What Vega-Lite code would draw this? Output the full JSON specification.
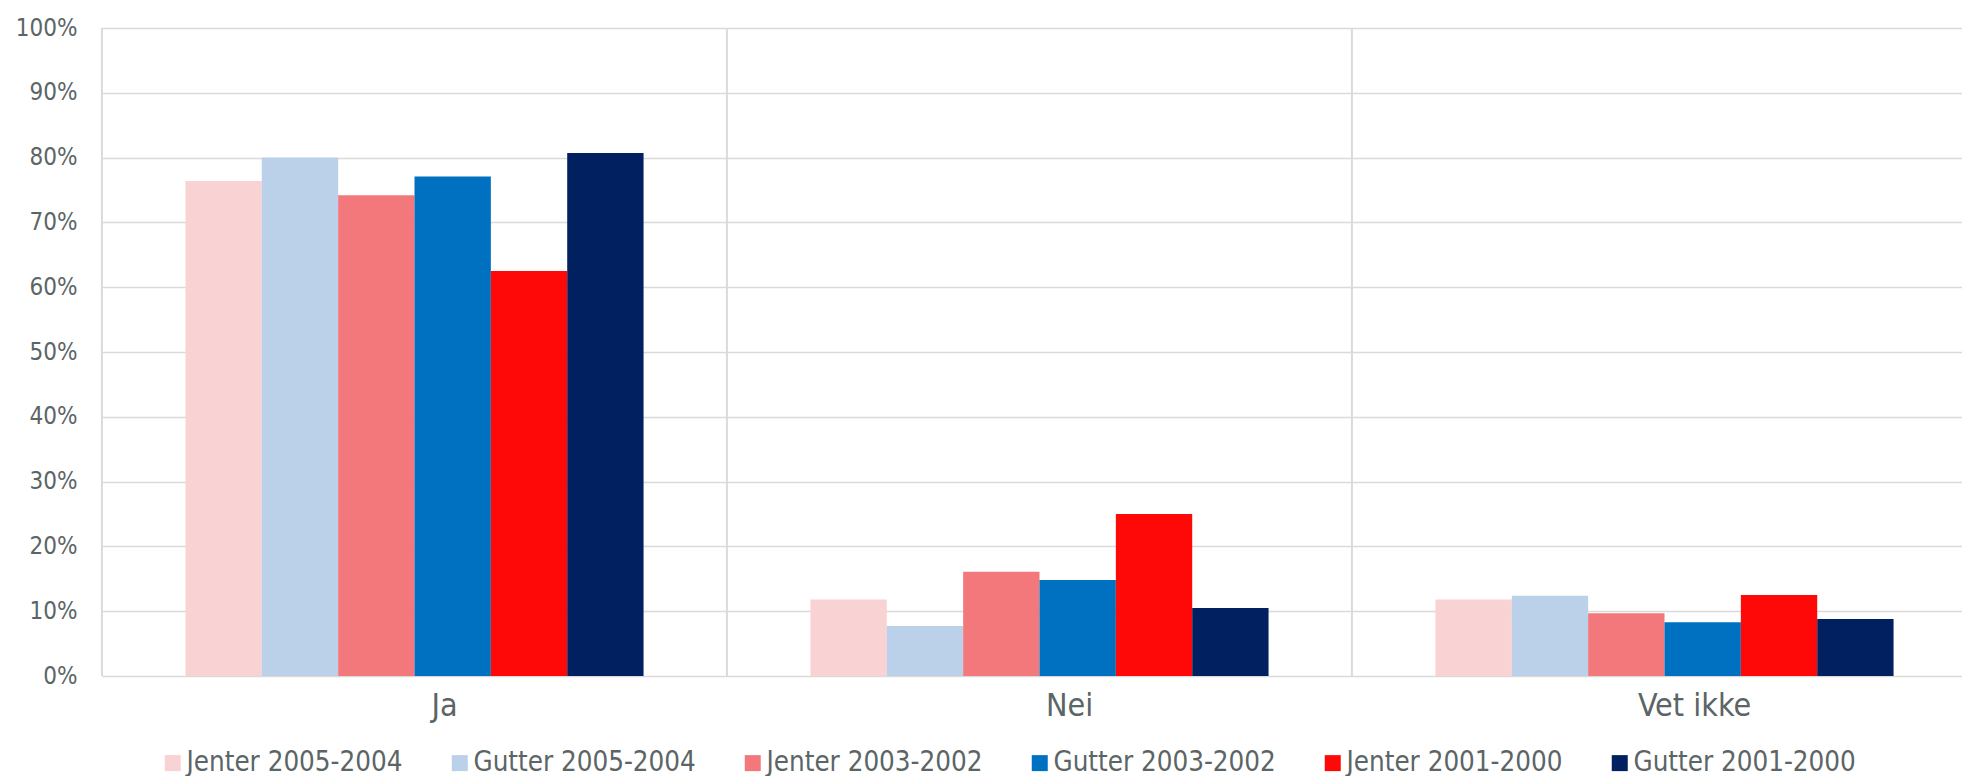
{
  "$schema": "https://vega.github.io/schema/vega-lite/v6.json",
  "autosize": {"type": "none"},
  "padding": {"left": 102, "top": 28, "right": 0, "bottom": 100},
  "width": 1860,
  "height": 648,
  "background": "white",
  "config": {
    "font": "DejaVu Sans Condensed",
    "view": {"stroke": null}
  },
  "datasets": {
    "svar": [
      {"svar": "Ja", "gruppe": "Jenter 2005-2004", "prosent": 76.4},
      {"svar": "Ja", "gruppe": "Gutter 2005-2004", "prosent": 80.0},
      {"svar": "Ja", "gruppe": "Jenter 2003-2002", "prosent": 74.2},
      {"svar": "Ja", "gruppe": "Gutter 2003-2002", "prosent": 77.1},
      {"svar": "Ja", "gruppe": "Jenter 2001-2000", "prosent": 62.5},
      {"svar": "Ja", "gruppe": "Gutter 2001-2000", "prosent": 80.7},
      {"svar": "Nei", "gruppe": "Jenter 2005-2004", "prosent": 11.8},
      {"svar": "Nei", "gruppe": "Gutter 2005-2004", "prosent": 7.7},
      {"svar": "Nei", "gruppe": "Jenter 2003-2002", "prosent": 16.1},
      {"svar": "Nei", "gruppe": "Gutter 2003-2002", "prosent": 14.8},
      {"svar": "Nei", "gruppe": "Jenter 2001-2000", "prosent": 25.0},
      {"svar": "Nei", "gruppe": "Gutter 2001-2000", "prosent": 10.5},
      {"svar": "Vet ikke", "gruppe": "Jenter 2005-2004", "prosent": 11.8},
      {"svar": "Vet ikke", "gruppe": "Gutter 2005-2004", "prosent": 12.4},
      {"svar": "Vet ikke", "gruppe": "Jenter 2003-2002", "prosent": 9.7},
      {"svar": "Vet ikke", "gruppe": "Gutter 2003-2002", "prosent": 8.3},
      {"svar": "Vet ikke", "gruppe": "Jenter 2001-2000", "prosent": 12.5},
      {"svar": "Vet ikke", "gruppe": "Gutter 2001-2000", "prosent": 8.8}
    ],
    "kategorier": [
      {"svar": "Ja"},
      {"svar": "Nei"},
      {"svar": "Vet ikke"}
    ]
  },
  "layer": [
    {
      "data": {"name": "svar"},
      "mark": {"type": "bar"},
      "encoding": {
        "x": {
          "field": "svar",
          "type": "nominal",
          "sort": ["Ja", "Nei", "Vet ikke"],
          "scale": {"range": [0, 1875], "paddingInner": 0.267, "paddingOuter": 0.1335},
          "axis": {
            "title": null,
            "labelAngle": 0,
            "labelFontSize": 32,
            "labelColor": "#5b6566",
            "labelPadding": 14,
            "labelOffset": 30,
            "ticks": false,
            "domain": false,
            "grid": false
          }
        },
        "xOffset": {
          "field": "gruppe",
          "type": "nominal",
          "sort": ["Jenter 2005-2004", "Gutter 2005-2004", "Jenter 2003-2002", "Gutter 2003-2002", "Jenter 2001-2000", "Gutter 2001-2000"],
          "scale": {"paddingInner": 0, "paddingOuter": 0}
        },
        "y": {
          "field": "prosent",
          "type": "quantitative",
          "scale": {"domain": [0, 100], "nice": false},
          "axis": {
            "title": null,
            "values": [0, 10, 20, 30, 40, 50, 60, 70, 80, 90, 100],
            "labelExpr": "datum.value + '%'",
            "labelFontSize": 24,
            "labelColor": "#5b6566",
            "labelPadding": 25,
            "ticks": false,
            "domain": false,
            "grid": true,
            "gridColor": "#dadada",
            "gridWidth": 1.6
          }
        },
        "color": {
          "field": "gruppe",
          "type": "nominal",
          "scale": {
            "domain": ["Jenter 2005-2004", "Gutter 2005-2004", "Jenter 2003-2002", "Gutter 2003-2002", "Jenter 2001-2000", "Gutter 2001-2000"],
            "range": ["#f9d2d4", "#bbd0e9", "#f3787b", "#0070c0", "#ff0808", "#002060"]
          },
          "legend": {
            "title": null,
            "orient": "none",
            "legendX": 57,
            "legendY": 721,
            "direction": "horizontal",
            "columns": 6,
            "columnPadding": 43,
            "symbolType": "square",
            "symbolSize": 256,
            "symbolStrokeWidth": 0,
            "labelFontSize": 27.5,
            "labelColor": "#5b6566",
            "labelOffset": 0,
            "labelLimit": 400
          }
        }
      }
    },
    {
      "data": {"name": "kategorier"},
      "mark": {"type": "rule", "color": "#dadada", "strokeWidth": 2},
      "encoding": {
        "x": {"field": "svar", "type": "nominal", "bandPosition": -0.1823, "sort": ["Ja", "Nei", "Vet ikke"]}
      }
    }
  ]
}
